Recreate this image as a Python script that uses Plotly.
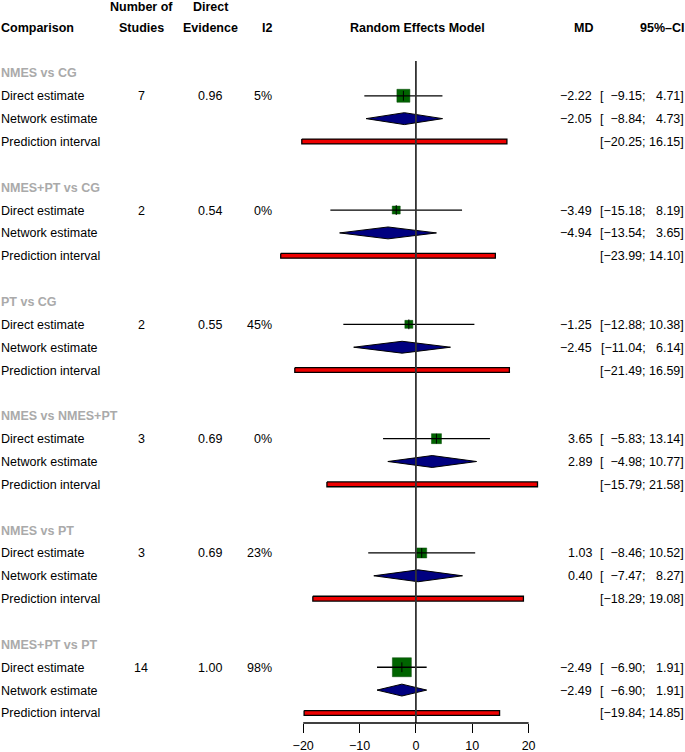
import plotly.graph_objects as go

# ---- data ----
comparisons = ["NMES vs CG", "NMES+PT vs CG", "PT vs CG", "NMES vs NMES+PT", "NMES vs PT", "NMES+PT vs PT"]
n_studies = [7, 2, 2, 3, 3, 14]
direct_evidence = [0.96, 0.54, 0.55, 0.69, 0.69, 1.00]
i2 = [5, 0, 45, 0, 23, 98]
direct_md = [-2.22, -3.49, -1.25, 3.65, 1.03, -2.49]
direct_lo = [-9.15, -15.18, -12.88, -5.83, -8.46, -6.90]
direct_hi = [4.71, 8.19, 10.38, 13.14, 10.52, 1.91]
network_md = [-2.05, -4.94, -2.45, 2.89, 0.40, -2.49]
network_lo = [-8.84, -13.54, -11.04, -4.98, -7.47, -6.90]
network_hi = [4.73, 3.65, 6.14, 10.77, 8.27, 1.91]
pi_lo = [-20.25, -23.99, -21.49, -15.79, -18.29, -19.84]
pi_hi = [16.15, 14.10, 16.59, 21.58, 19.08, 14.85]
row_labels = ["Direct estimate", "Network estimate", "Prediction interval"]
tick_values = [-20, -10, 0, 10, 20]

# ---- style ----
W, H = 685, 752
FONT = "Liberation Sans, Arial, Helvetica, sans-serif"
FS = 12.5
square_sizes = [13, 8, 8, 10, 10, 19]   # square edge in px (weights)
GREEN = "#006400"
NAVY = "#000080"
RED = "#ee0000"
GRAY_TITLE = "#aaaaaa"
DIAMOND_HALF = 0.26
PI_HALF = 0.105

zero_px = 415.9
px_per_unit = 5.635
xr = (-25, 25)
dom = [(zero_px + xr[0] * px_per_unit) / W, (zero_px + xr[1] * px_per_unit) / W]


def minus(s):
    return s.replace("-", "\u2212")


def fmt_ci(lo, hi):
    a = f"{lo:6.2f}".replace(" ", "\u2007")
    b = f"{hi:5.2f}".replace(" ", "\u2007")
    return minus(f"[{a}; {b}]")


fig = go.Figure()
annotations = []


def add_text(xpx, y, text, anchor="left", bold=False, color="black"):
    if bold:
        text = f"<b>{text}</b>"
    annotations.append(dict(x=xpx / W, xref="paper", y=y, yref="y", text=text,
                            showarrow=False, xanchor=anchor, yanchor="middle",
                            font=dict(family=FONT, size=FS, color=color),
                            borderpad=0, yshift=-0.5))


# headers
add_text(0, -2, "Comparison", "left", True)
add_text(141, -2.9, "Number of", "center", True)
add_text(141, -2, "Studies", "center", True)
add_text(210.5, -2.9, "Direct", "center", True)
add_text(210.5, -2, "Evidence", "center", True)
add_text(273, -2, "I2", "right", True)
add_text(417.5, -2, "Random Effects Model", "center", True)
add_text(594, -2, "MD", "right", True)
add_text(685, -2, "95%\u2013CI", "right", True)

for g, name in enumerate(comparisons):
    base = 5 * g
    kd, kn, kp = base + 1, base + 2, base + 3
    add_text(0, base, name, "left", True, GRAY_TITLE)
    for j, lab in enumerate(row_labels):
        add_text(0, base + 1 + j, lab, "left")
    add_text(141, kd, str(n_studies[g]), "center")
    add_text(210, kd, f"{direct_evidence[g]:.2f}", "center")
    add_text(273, kd, f"{i2[g]}%", "right")
    add_text(593, kd, minus(f"{direct_md[g]:.2f}"), "right")
    add_text(593, kn, minus(f"{network_md[g]:.2f}"), "right")
    add_text(685, kd, fmt_ci(direct_lo[g], direct_hi[g]), "right")
    add_text(685, kn, fmt_ci(network_lo[g], network_hi[g]), "right")
    add_text(685, kp, fmt_ci(pi_lo[g], pi_hi[g]), "right")

    # prediction interval bar
    fig.add_trace(go.Scatter(
        x=[pi_lo[g], pi_hi[g], pi_hi[g], pi_lo[g], pi_lo[g]],
        y=[kp - PI_HALF, kp - PI_HALF, kp + PI_HALF, kp + PI_HALF, kp - PI_HALF],
        mode="lines", fill="toself", fillcolor=RED,
        line=dict(color="black", width=1.3), hoverinfo="skip", showlegend=False))
    # network diamond
    fig.add_trace(go.Scatter(
        x=[network_lo[g], network_md[g], network_hi[g], network_md[g], network_lo[g]],
        y=[kn, kn - DIAMOND_HALF, kn, kn + DIAMOND_HALF, kn],
        mode="lines", fill="toself", fillcolor=NAVY,
        line=dict(color="black", width=1), hoverinfo="skip", showlegend=False))
    # direct square
    fig.add_trace(go.Scatter(
        x=[direct_md[g]], y=[kd], mode="markers",
        marker=dict(symbol="square", size=square_sizes[g], color=GREEN,
                    line=dict(color="#0a4a0a", width=0.5)),
        hoverinfo="skip", showlegend=False))
    # direct CI line
    fig.add_trace(go.Scatter(
        x=[direct_lo[g], direct_hi[g]], y=[kd, kd], mode="lines",
        line=dict(color="black", width=1.3), hoverinfo="skip", showlegend=False))
    # small tick at the estimate
    fig.add_trace(go.Scatter(
        x=[direct_md[g]], y=[kd], mode="markers",
        marker=dict(symbol="line-ns-open", size=7, color="black",
                    line=dict(color="black", width=1)),
        hoverinfo="skip", showlegend=False))

k_top = -0.52
k_bottom = 28.44

shapes = [
    dict(type="line", xref="x", yref="y", x0=0, x1=0, y0=k_top, y1=k_bottom,
         line=dict(color="#333333", width=1.8), layer="above"),
    dict(type="line", xref="x", yref="paper", x0=tick_values[0], x1=tick_values[-1], y0=0, y1=0,
         line=dict(color="black", width=1.3), layer="above"),
]

fig.update_layout(
    width=W, height=H,
    margin=dict(l=0, r=0, t=0, b=29),
    paper_bgcolor="white", plot_bgcolor="white",
    font=dict(family=FONT, size=FS, color="black"),
    xaxis=dict(domain=dom, range=list(xr), showgrid=False, zeroline=False, showline=False,
               ticks="outside", tickvals=tick_values, ticklen=9, tickwidth=1.3,
               tickcolor="black", tickfont=dict(family=FONT, size=FS, color="black"),
               ticklabelstandoff=2, automargin=False, fixedrange=True),
    yaxis=dict(range=[k_bottom, -3.19], visible=False, fixedrange=True, automargin=False),
    annotations=annotations,
    shapes=shapes,
    showlegend=False,
)

fig.write_html("out.html", config={"displayModeBar": False},
               post_script="document.body.style.margin='0';document.body.style.overflow='hidden';")
